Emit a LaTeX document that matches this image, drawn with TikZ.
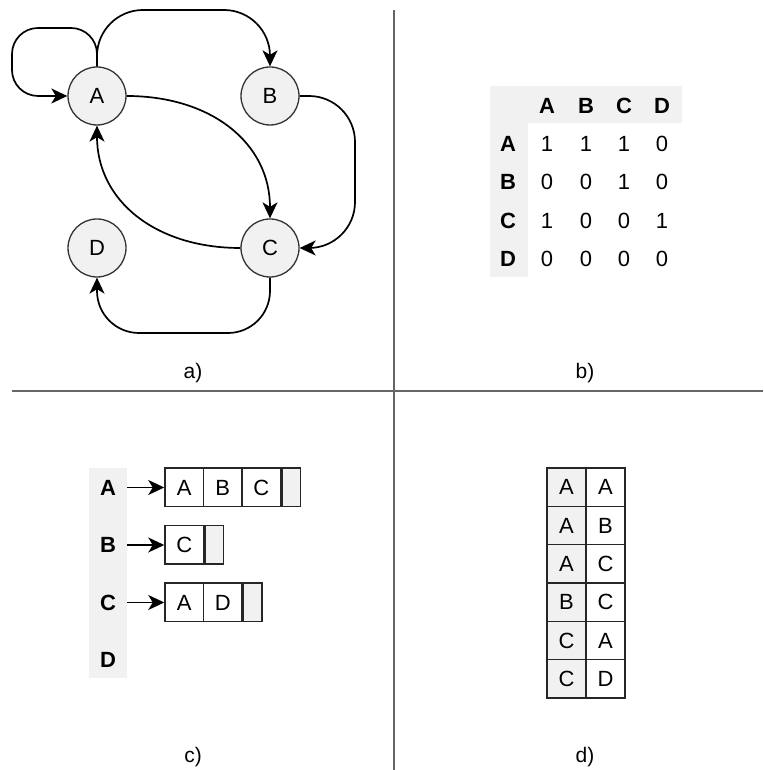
\documentclass[tikz,border=0pt]{standalone}
\usepackage{fontspec}
\setmainfont{Liberation Sans}
\usetikzlibrary{arrows.meta,calc}
\definecolor{lgray}{HTML}{F1F1F1}
\definecolor{sepgray}{HTML}{666666}
\tikzset{
  x=1pt, y=1pt,
  vtx/.style={circle, draw=black!80, line width=1.3pt, fill=lgray, minimum size=58pt, inner sep=0pt, font=\fontsize{22}{26}\selectfont},
  arr/.style={-{Stealth[length=16pt,width=15pt,inset=4.5pt]}, line width=1.7pt, black},
  sepline/.style={draw=sepgray, line width=2pt},
  lblcap/.style={font=\fontsize{21}{25}\selectfont},
  hdr/.style={font=\fontsize{22}{26}\selectfont\bfseries},
  val/.style={font=\fontsize{22}{26}\selectfont},
  cell/.style={draw=black!85, line width=1.5pt, minimum width=38.5pt, minimum height=38.5pt, inner sep=0pt, font=\fontsize{22}{26}\selectfont},
  gcell/.style={cell, fill=lgray, minimum width=18.5pt},
  dcell/.style={cell, minimum width=39pt, minimum height=38.33pt},
}
\begin{document}
\begin{tikzpicture}
\useasboundingbox (0,0) rectangle (763,770);
% separators
\coordinate (vt) at (394,760);
\coordinate (vb) at (394,0);
\coordinate (hl) at (12,379);
\coordinate (hr) at (763,379);
\draw[sepline] (vt) -- (vb);
\draw[sepline] (hl) -- (hr);

% ---------- a) graph ----------
\node[vtx] (A) at (97,674) {A};
\node[vtx] (B) at (270,674) {B};
\node[vtx] (C) at (270,522) {C};
\node[vtx] (D) at (97,522) {D};
\coordinate (loop) at (12,742);
\coordinate (abtop) at (270,760);
\coordinate (bcr) at (355,522);
\coordinate (cdb) at (97,437);
\draw[arr, rounded corners=26pt] (A.north) |- (loop) |- (A.west);
\draw[arr, rounded corners=46pt] (A.north) |- (abtop) -- (B.north);
\draw[arr] (A.east) .. controls +(85,0) and +(0,75) .. (C.north);
\draw[arr] (C.west) .. controls +(-85,0) and +(0,-75) .. (A.south);
\draw[arr, rounded corners=46pt] (B.east) -| (bcr) -- (C.east);
\draw[arr, rounded corners=42pt] (C.south) |- (cdb) -- (D.south);
\node[lblcap] (la) at (193,397) {a)};

% ---------- b) matrix ----------
\fill[lgray] (490,684) rectangle (682,647);
\fill[lgray] (490,684) rectangle (528,493);
\foreach \n/\x in {A/547,B/586,C/624,D/662}{
  \node[hdr] (h\n) at (\x,664) {\n};
}
\foreach \n/\y in {A/626,B/588,C/549,D/511}{
  \node[hdr] (r\n) at (508,\y) {\n};
}
\foreach \r/\y/\vals in {A/626/{1,1,1,0},B/588/{0,0,1,0},C/549/{1,0,0,1},D/511/{0,0,0,0}}{
  \foreach \v [count=\i] in \vals {
    \pgfmathsetmacro{\xx}{ifthenelse(\i==1,547,ifthenelse(\i==2,586,ifthenelse(\i==3,624,662)))}
    \node[val] (m\r\i) at (\xx,\y) {\v};
  }
}
\node[lblcap] (lb) at (585,397) {b)};

% ---------- c) adjacency list ----------
\fill[lgray] (89,302) rectangle (127,92);
\node[hdr] (cA) at (108,282.5) {A};
\node[hdr] (cB) at (108,225) {B};
\node[hdr] (cC) at (108,167.5) {C};
\node[hdr] (cD) at (108,110) {D};
\coordinate (sA) at (127,282.5);
\coordinate (sB) at (127,225);
\coordinate (sC) at (127,167.5);
% row A
\node[cell] (a1) at (184.25,282.5) {A};
\node[cell] (a2) at (222.75,282.5) {B};
\node[cell] (a3) at (261.25,282.5) {C};
\node[gcell, anchor=west] (a4) at (a3.east) {};
% row B
\node[cell] (b1) at (184.25,225) {C};
\node[gcell, anchor=west] (b2) at (b1.east) {};
% row C
\node[cell] (c1) at (184.25,167.5) {A};
\node[cell] (c2) at (222.75,167.5) {D};
\node[gcell, anchor=west] (c3) at (c2.east) {};
\draw[arr] (sA) -- (a1.west);
\draw[arr] (sB) -- (b1.west);
\draw[arr] (sC) -- (c1.west);
\node[lblcap] (lc) at (193,13) {c)};

% ---------- d) edge list ----------
\foreach \a/\b [count=\i] in {A/A,A/B,A/C,B/C,C/A,C/D}{
  \pgfmathsetmacro{\yy}{302-38.33*(\i-0.5)}
  \node[dcell, fill=lgray] (e\i l) at (566.5,\yy) {\a};
  \node[dcell] (e\i r) at (605.5,\yy) {\b};
}
\node[lblcap] (ld) at (585,13) {d)};
\end{tikzpicture}
\end{document}
